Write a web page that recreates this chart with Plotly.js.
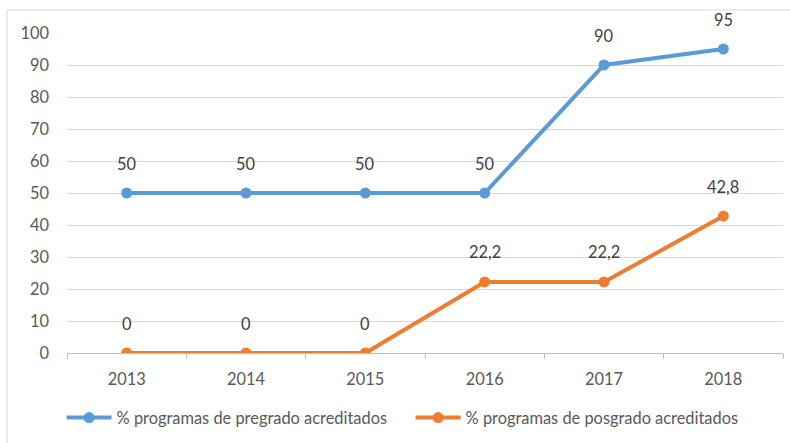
<!DOCTYPE html>
<html>
<head>
<meta charset="utf-8">
<script src="https://cdn.plot.ly/plotly-3.0.1.min.js"></script>
<style>
html,body{margin:0;padding:0;background:#fff;}
#chart{width:790px;height:443px;}
</style>
</head>
<body>
<div id="chart"></div>
<script>
const years = ['2013','2014','2015','2016','2017','2018'];
const pregrado = [50, 50, 50, 50, 90, 95];
const posgrado = [0, 0, 0, 22.2, 22.2, 42.8];
const pregradoName = '% programas de pregrado acreditados';
const posgradoName = '% programas de posgrado acreditados';
const yTicks = [0,10,20,30,40,50,60,70,80,90,100];

const blue = '#5B9BD5';
const orange = '#ED7D31';

function fmt(v){ return String(v).replace('.', ','); }

const traces = [
  {x: years, y: pregrado, name: pregradoName, type: 'scatter', mode: 'lines+markers',
   line: {color: blue, width: 4}, marker: {color: blue, size: 11}, hoverinfo: 'skip'},
  {x: years, y: posgrado, name: posgradoName, type: 'scatter', mode: 'lines+markers',
   line: {color: orange, width: 4}, marker: {color: orange, size: 11}, hoverinfo: 'skip'}
];

const annotations = [];
const seriesList = [pregrado, posgrado];
for (let s = 0; s < seriesList.length; s++) {
  const arr = seriesList[s];
  for (let i = 0; i < arr.length; i++) {
    annotations.push({x: i, y: arr[i], xref: 'x', yref: 'y', text: fmt(arr[i]), showarrow: false,
      xanchor: 'center', yanchor: 'middle', yshift: 30,
      font: {family: 'Lato, sans-serif', size: 16.4, color: '#404040'}});
  }
}

const layout = {
  width: 790, height: 443,
  margin: {l: 67, r: 7, t: 33, b: 90},
  paper_bgcolor: '#fff', plot_bgcolor: '#fff',
  font: {family: 'Lato, sans-serif', size: 16.4, color: '#595959'},
  showlegend: true,
  legend: {orientation: 'h', x: -0.0076, xanchor: 'left', y: -0.203, yanchor: 'middle',
           entrywidth: 289, itemwidth: 45,
           font: {size: 16.4, color: '#595959'}},
  xaxis: {type: 'category', range: [-0.5, 5.5], showgrid: false, showline: true,
          linecolor: '#bfbfbf', linewidth: 1, ticks: 'outside', tickson: 'boundaries',
          ticklen: 5, tickcolor: '#bfbfbf', ticklabelstandoff: 11, fixedrange: true,
          tickfont: {size: 16.4, color: '#595959'}},
  yaxis: {range: [0, 100], tickvals: yTicks, showgrid: true, gridcolor: '#d9d9d9', gridwidth: 1,
          zeroline: false, showline: false, ticks: '', ticklabelstandoff: 17, fixedrange: true,
          tickfont: {size: 16.4, color: '#595959'}},
  annotations: annotations,
  shapes: [
    {type: 'line', xref: 'paper', yref: 'paper', x0: -0.0838, x1: 1.02, y0: 1.0719, y1: 1.0719,
     line: {color: '#d9d9d9', width: 1}},
    {type: 'line', xref: 'paper', yref: 'paper', x0: -0.0838, x1: -0.0838, y0: 1.0719, y1: -0.29,
     line: {color: '#d9d9d9', width: 1}}
  ]
};

Plotly.newPlot('chart', traces, layout, {displayModeBar: false, staticPlot: true});
</script>
</body>
</html>
